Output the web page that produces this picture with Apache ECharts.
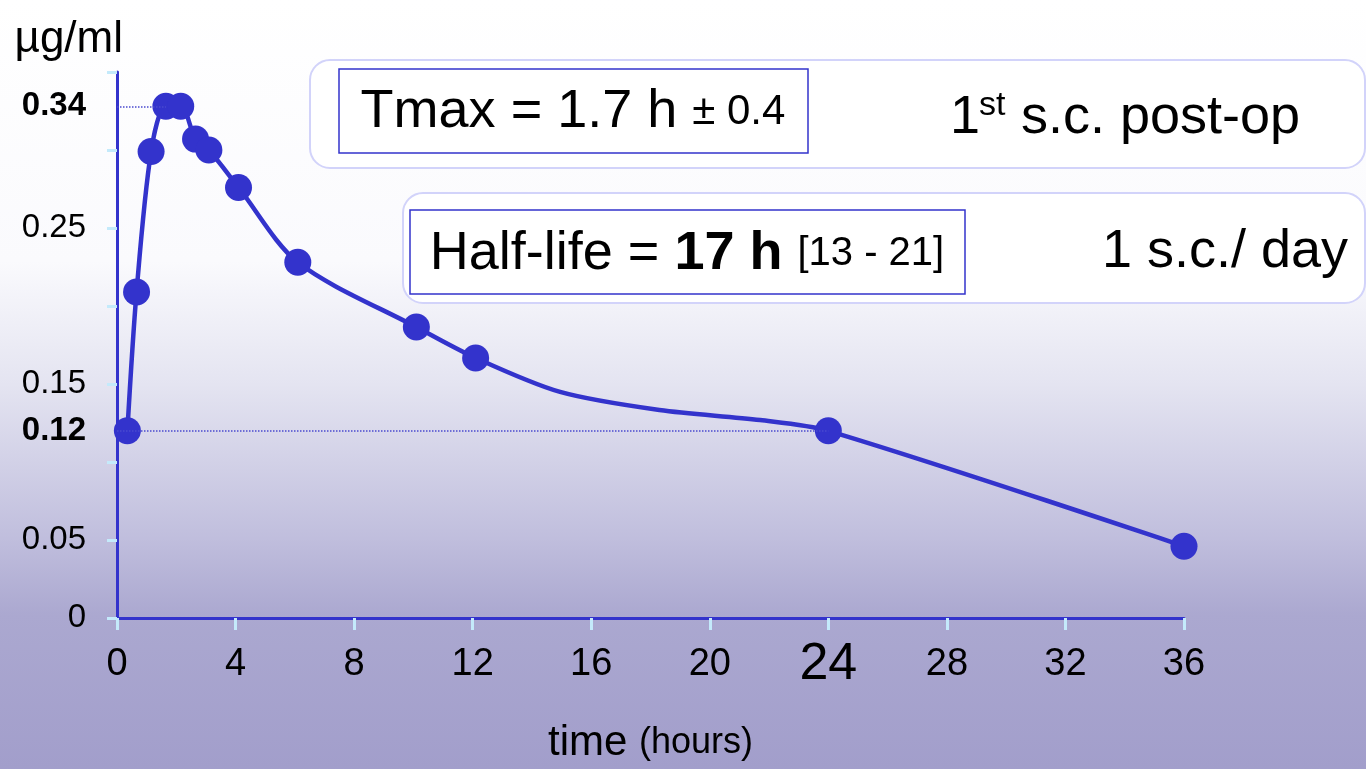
<!DOCTYPE html>
<html>
<head>
<meta charset="utf-8">
<script src="https://cdn.jsdelivr.net/npm/echarts@6/dist/echarts.min.js"></script>
<style>
html,body{margin:0;padding:0;width:1366px;height:769px;overflow:hidden;}
#c{width:1366px;height:769px;}
</style>
</head>
<body>
<div id="c"></div>
<script>
// measured points (time in hours, concentration in µg/ml)
const times = [0.35, 0.66, 1.15, 1.65, 2.15, 2.65, 3.1, 4.1, 6.1, 10.1, 12.1, 24, 36];
const conc  = [0.12, 0.209, 0.299, 0.328, 0.328, 0.307, 0.300, 0.276, 0.228, 0.1865, 0.1667, 0.12, 0.046];
// curve shape points read between measurements
const curveTimes = [0.35, 0.66, 1.15, 1.65, 2.15, 2.65, 3.1, 4.1, 6.1, 10.1, 12.1, 14.95, 18.3, 21.7, 24, 36];
const curveConc  = [0.12, 0.209, 0.299, 0.328, 0.328, 0.307, 0.300, 0.276, 0.228, 0.1865, 0.1667, 0.1449, 0.1333, 0.1269, 0.12, 0.046];
const yTickLabels = [0, 0.05, 0.15, 0.25];
const refLines = [
  {name: '0.34', value: 0.328, toTime: 1.65},
  {name: '0.12', value: 0.12, toTime: 24}
];
const bigXLabel = 24;

const FONT = '"Liberation Sans", Arial, sans-serif';
const BLUE = '#3333cc';

const chart = echarts.init(document.getElementById('c'), null, {renderer: 'canvas'});

const option = {
  animation: false,
  backgroundColor: {
    type: 'linear', x: 0, y: 0, x2: 0, y2: 1,
    colorStops: [
      {offset: 0, color: '#ffffff'},
      {offset: 0.34, color: '#fafafd'},
      {offset: 0.5, color: '#e4e4f1'},
      {offset: 0.7, color: '#c0bedd'},
      {offset: 0.8, color: '#aba8d0'},
      {offset: 1, color: '#a29ecb'}
    ]
  },
  textStyle: {fontFamily: FONT},
  grid: {left: 117, right: 182, top: 72, bottom: 151, containLabel: false, outerBoundsMode: 'none'},
  xAxis: {
    type: 'value', min: 0, max: 36, interval: 4,
    splitLine: {show: false},
    axisLine: {lineStyle: {color: BLUE, width: 3}},
    axisTick: {length: 12, lineStyle: {color: '#c4eafb', width: 3}},
    axisLabel: {
      color: '#000', fontSize: 38, fontFamily: FONT, margin: 47, verticalAlign: 'middle',
      formatter: v => v === bigXLabel ? '{big|' + v + '}' : String(v),
      rich: {big: {fontSize: 52, fontFamily: FONT, color: '#000'}}
    },
    name: '{a|time }{b|(hours)}',
    nameLocation: 'middle',
    nameGap: 104,
    nameTextStyle: {
      rich: {
        a: {fontSize: 42, fontFamily: FONT, color: '#000'},
        b: {fontSize: 36, fontFamily: FONT, color: '#000'}
      }
    }
  },
  yAxis: {
    type: 'value', min: 0, max: 0.35, interval: 0.05,
    splitLine: {show: false},
    axisLine: {lineStyle: {color: BLUE, width: 3}},
    axisTick: {length: 10, lineStyle: {color: '#c4eafb', width: 3}},
    axisLabel: {
      color: '#000', fontSize: 33, fontFamily: FONT, margin: 31,
      formatter: v => {
        const r = Math.round(v * 100) / 100;
        return yTickLabels.indexOf(r) >= 0 ? String(r) : '';
      }
    },
    name: 'µg/ml',
    nameLocation: 'end',
    nameGap: 10,
    nameTextStyle: {fontSize: 44, fontFamily: FONT, color: '#000', align: 'right', verticalAlign: 'bottom', padding: [0, -6, 0, 0]}
  },
  series: [
    {
      type: 'line',
      data: curveTimes.map((t, i) => [t, curveConc[i]]),
      smooth: 0.3,
      symbol: 'none',
      lineStyle: {color: BLUE, width: 4.5},
      z: 2,
      silent: true
    },
    {
      type: 'scatter',
      data: times.map((t, i) => [t, conc[i]]),
      symbol: 'circle',
      symbolSize: 27,
      itemStyle: {color: BLUE, opacity: 1},
      z: 3,
      silent: true,
      markLine: {
        silent: true,
        symbol: ['none', 'none'],
        lineStyle: {type: 'dotted', color: '#4a4ad0', width: 1.5},
        label: {
          show: true, position: 'start', formatter: '{b}', distance: 31,
          color: '#000', fontSize: 33, fontWeight: 'bold', fontFamily: FONT
        },
        data: refLines.map(r => [
          {name: r.name, coord: [0, r.value]},
          {coord: [r.toTime, r.value]}
        ])
      }
    }
  ],
  graphic: [
    {type: 'rect', z: 10, shape: {x: 310, y: 60, width: 1055, height: 108, r: 20},
     style: {fill: '#ffffff', stroke: '#d2d3fa', lineWidth: 2}},
    {type: 'rect', z: 10, shape: {x: 403, y: 193, width: 962, height: 110, r: 20},
     style: {fill: '#ffffff', stroke: '#d2d3fa', lineWidth: 2}},
    {type: 'rect', z: 11, shape: {x: 339, y: 69, width: 469, height: 84},
     style: {fill: '#ffffff', stroke: BLUE, lineWidth: 1.5}},
    {type: 'rect', z: 11, shape: {x: 410, y: 210, width: 555, height: 84},
     style: {fill: '#ffffff', stroke: BLUE, lineWidth: 1.5}},
    {type: 'text', z: 12, x: 573, y: 112,
     style: {text: '{a|Tmax = 1.7 h }{b|± 0.4}', align: 'center', verticalAlign: 'middle',
       rich: {a: {fontSize: 54, fontFamily: FONT, fill: '#000'}, b: {fontSize: 42, fontFamily: FONT, fill: '#000'}}}},
    {type: 'text', z: 12, x: 687, y: 254,
     style: {text: '{a|Half-life = }{c|17 h }{b|[13 - 21]}', align: 'center', verticalAlign: 'middle',
       rich: {a: {fontSize: 54, fontFamily: FONT, fill: '#000'},
              c: {fontSize: 54, fontFamily: FONT, fontWeight: 'bold', fill: '#000'},
              b: {fontSize: 40, fontFamily: FONT, fill: '#000'}}}},
    {type: 'text', z: 12, x: 950, y: 118,
     style: {text: '1', fontSize: 54, fontFamily: FONT, fill: '#000', align: 'left', verticalAlign: 'middle'}},
    {type: 'text', z: 12, x: 979, y: 106,
     style: {text: 'st', fontSize: 34, fontFamily: FONT, fill: '#000', align: 'left', verticalAlign: 'middle'}},
    {type: 'text', z: 12, x: 1021, y: 118,
     style: {text: 's.c. post-op', fontSize: 54, fontFamily: FONT, fill: '#000', align: 'left', verticalAlign: 'middle'}},
    {type: 'text', z: 12, x: 1348, y: 252,
     style: {text: '1 s.c./ day', fontSize: 54, fontFamily: FONT, fill: '#000', align: 'right', verticalAlign: 'middle'}}
  ]
};
chart.setOption(option);
</script>
</body>
</html>
